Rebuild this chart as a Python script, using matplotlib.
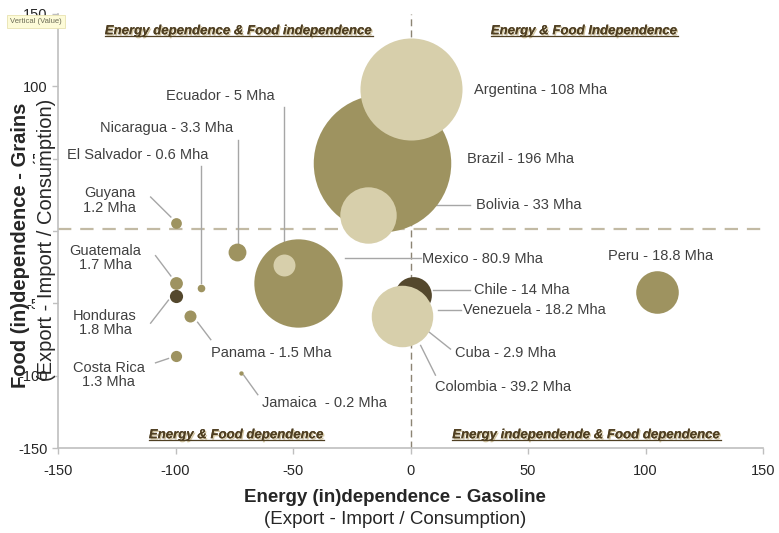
import matplotlib
matplotlib.use("Agg")
import matplotlib.pyplot as plt
import matplotlib.patheffects as pe
import numpy as np

plt.rcParams['font.family'] = ['Liberation Sans', 'DejaVu Sans']
plt.rcParams['axes.unicode_minus'] = False

# bubble data: energy (x), food (y), cultivated area (Mha)
countries = ["Brazil", "Argentina", "Bolivia", "Mexico", "Ecuador", "Nicaragua",
             "El Salvador", "Guyana", "Guatemala", "Honduras", "Panama", "Costa Rica",
             "Jamaica", "Chile", "Venezuela", "Cuba", "Colombia", "Peru"]
energy = [-12, 0, -18, -48, -54, -74, -89, -100, -100, -100, -94, -100, -72, 1, -2, -4, -3.5, 105]
food = [47, 98, 11, -36, -23.5, -14.5, -39, 5.5, -36, -45, -59, -86, -98, -44, -55, -62, -59, -42]
area = [196, 108, 33, 80.9, 5, 3.3, 0.6, 1.2, 1.7, 1.8, 1.5, 1.3, 0.2, 14, 18.2, 2.9, 39.2, 18.8]
tone = ["olive", "light", "light", "olive", "light", "olive", "olive", "olive", "olive",
        "dark", "olive", "olive", "olive", "dark", "light", "light", "light", "olive"]

labels = ["Brazil - 196 Mha", "Argentina - 108 Mha", "Bolivia - 33 Mha", "Mexico - 80.9 Mha",
          "Ecuador - 5 Mha", "Nicaragua - 3.3 Mha", "El Salvador - 0.6 Mha", "Guyana\n1.2 Mha",
          "Guatemala\n1.7 Mha", "Honduras\n1.8 Mha", "Panama - 1.5 Mha", "Costa Rica\n1.3 Mha",
          "Jamaica  - 0.2 Mha", "Chile - 14 Mha", "Venezuela - 18.2 Mha", "Cuba - 2.9 Mha",
          "Colombia - 39.2 Mha", "Peru - 18.8 Mha"]

colors = {"olive": "#9e9360", "light": "#d7cfab", "dark": "#54482d"}

# label placement (x, y, ha) and leader line (x0, y0, x1, y1) or None
label_pos = [(24, 50, "left"), (27, 97.5, "left"), (28, 18, "left"), (5, -19.5, "left"),
             (-81, 93, "center"), (-104, 71, "center"), (-116, 52.5, "center"),
             (-128, 21, "center"), (-130, -18.7, "center"), (-130, -63.6, "center"),
             (-85, -84, "left"), (-128.5, -99.5, "center"), (-63.4, -119, "left"),
             (27, -41, "left"), (22.5, -54.6, "left"), (19, -84, "left"),
             (10.6, -108, "left"), (84, -17, "left")]
leaders = [None, None, (-3, 18, 25.5, 18), (-27.7, -18.7, 4.3, -18.7),
           (-54, 86, -54, -16), (-73.6, 63, -73.6, -8), (-89, 45, -89, -36),
           (-110.6, 23.5, -102, 9.7), (-108.5, -17, -102, -31), (-110.6, -63.6, -103, -47.7),
           (-90.6, -63, -85, -75), (-108.5, -91, -103, -88), (-71, -99.5, -65, -113),
           (9.4, -41, 25.5, -41), (11.5, -54.6, 21.3, -54.6), (5, -66, 17, -81.5),
           (4.3, -79, 10.6, -99.5), None]

quadrants = ["Energy dependence & Food independence", "Energy & Food Independence",
             "Energy & Food dependence", "Energy independende & Food dependence"]
quad_pos = [(-73, 138), (74, 138), (-74, -141), (75, -141)]

fig = plt.figure(figsize=(7.79, 5.33), dpi=100)
ax = fig.add_axes([0.0745, 0.159, 0.905, 0.815])

ax.set_xlim(-150, 150)
ax.set_ylim(-150, 150)
ax.set_xticks(np.arange(-150, 151, 50))
ax.set_yticks(np.arange(-150, 151, 50))
for s in ["top", "right"]:
    ax.spines[s].set_visible(False)
for s in ["left", "bottom"]:
    ax.spines[s].set_color("#bfbfbf")
    ax.spines[s].set_linewidth(1.2)
ax.tick_params(colors="#bfbfbf", labelcolor="#262626", labelsize=10.5, length=4, width=1)
ax.tick_params(axis="x", pad=7)

# quadrant separators
ax.axhline(1.5, color="#c2baa4", lw=1.6, ls=(0, (6, 4)), zorder=0)
ax.axvline(0, color="#8c8473", lw=1.0, ls=(0, (5, 3)), zorder=0)

# bubbles, drawn in list order
for i in range(len(countries)):
    ax.scatter(energy[i], food[i], s=area[i] * 50, color=colors[tone[i]],
               linewidths=0, zorder=2 + i * 0.01)

for i in range(len(countries)):
    lx, ly, ha = label_pos[i]
    ax.text(lx, ly, labels[i], ha=ha, va="center", fontsize=10.5, color="#404040",
            linespacing=1.05, zorder=4)
    if leaders[i] is not None:
        x0, y0, x1, y1 = leaders[i]
        ax.plot([x0, x1], [y0, y1], color="#a6a6a6", lw=1, zorder=1.5)

# quadrant titles, underlined
qtexts = []
for q, (qx, qy) in zip(quadrants, quad_pos):
    t = ax.text(qx, qy, q, ha="center", va="center", fontsize=9.5, fontweight="bold",
                fontstyle="italic", color="#4f3f22", zorder=5,
                path_effects=[pe.withSimplePatchShadow(offset=(1, -1), shadow_rgbFace="#c9b98d", alpha=0.8),
                              pe.Normal()])
    qtexts.append(t)

# axis titles (the y titles sit over the middle tick labels, as in the original)
fig.text(0.507, 0.066, "Energy (in)dependence - Gasoline", ha="center", va="center",
         fontsize=13.5, fontweight="bold", color="#262626")
fig.text(0.507, 0.025, "(Export - Import / Consumption)", ha="center", va="center",
         fontsize=13.5, color="#262626")
fig.add_artist(plt.Rectangle((0.045, 0.405), 0.023, 0.32, transform=fig.transFigure,
                             fc="white", ec="none", zorder=5))
fig.text(0.06, 0.55, "(Export - Import / Consumption)", rotation=90, ha="center", va="center",
         fontsize=14.5, color="#262626", zorder=10)
fig.text(0.026, 0.54, "Food (in)dependence - Grains", rotation=90, ha="center", va="center",
         fontsize=14.5, fontweight="bold", color="#262626", zorder=11)

# tooltip artifact
fig.text(0.013, 0.96, "Vertical (Value)", fontsize=5.5, color="#6b6b55", va="center",
         bbox=dict(boxstyle="square,pad=0.4", fc="#fdfbd8", ec="#e8e2b0", lw=0.6))

fig.canvas.draw()
r = fig.canvas.get_renderer()
for t in qtexts:
    bb = t.get_window_extent(r).transformed(fig.transFigure.inverted())
    fig.add_artist(plt.Line2D([bb.x0, bb.x1], [bb.y0 + 0.002, bb.y0 + 0.002],
                              color="#4f3f22", lw=0.9, transform=fig.transFigure))

fig.savefig("out.png", dpi=100)
